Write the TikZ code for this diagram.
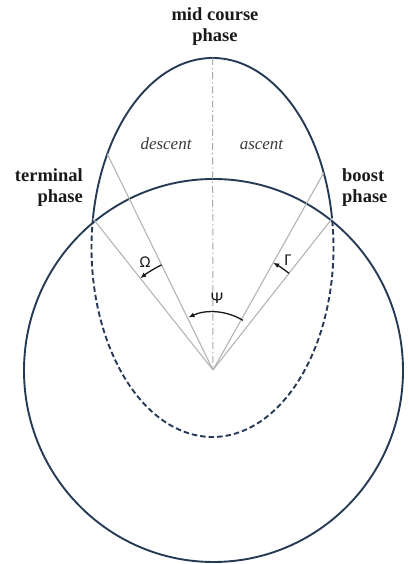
\documentclass[tikz,border=0pt]{standalone}
\usepackage{fontspec}
\setmainfont{Liberation Serif}
\newfontfamily\greekfont{Carlito}
\usetikzlibrary{calc,arrows.meta}
\definecolor{navy}{HTML}{263A55}
\definecolor{ray}{HTML}{B4B4B4}
\definecolor{axisgray}{HTML}{A8A8A8}
\definecolor{txt}{HTML}{1A1A1A}
\definecolor{ittxt}{HTML}{3A3A3A}
\tikzset{
  orbit/.style={draw=navy,line width=1.9pt},
  hidden/.style={draw=navy,line width=1.9pt,dash pattern=on 5.5pt off 3pt},
  rayline/.style={draw=ray,line width=1.1pt},
  axisline/.style={draw=axisgray,line width=1pt,dash pattern=on 7pt off 3pt on 1.2pt off 3pt},
  anglearrow/.style={draw=txt,line width=1.3pt,-{Latex[length=6pt,width=5pt]}},
  phaselabel/.style={font=\fontsize{18.5}{21}\selectfont\bfseries,text=txt,align=center,inner sep=0pt},
  itlabel/.style={font=\fontsize{17}{20}\selectfont\itshape,text=ittxt,inner sep=0pt},
  greeklabel/.style={font=\fontsize{16.5}{18}\selectfont\greekfont,text=txt,inner sep=0pt}
}
\begin{document}
\begin{tikzpicture}[x=1pt,y=1pt]
\useasboundingbox (0,0) rectangle (408,564);
\coordinate (C) at (213.5,193.5);
\coordinate (E) at (212.5,316.5);
\coordinate (O) at (213,194);
\coordinate (L) at ($(E)+(171.2:121 and 189.5)$);
\coordinate (R) at ($(E)+(8.8:121 and 189.5)$);
\coordinate (Li) at ($(E)+(150.4:121 and 189.5)$);
\coordinate (Ri) at ($(E)+(23.2:121 and 189.5)$);
\coordinate (T) at ($(E)+(0,189.5)$);
% earth
\draw[orbit] (C) ellipse[x radius=189.5, y radius=191.5];
% trajectory
\draw[orbit] (R) arc[start angle=8.8, end angle=171.2, x radius=121, y radius=189.5];
\draw[hidden] (L) arc[start angle=171.2, end angle=368.8, x radius=121, y radius=189.5];
% axis
\draw[axisline] (T) -- (O);
% rays
\draw[rayline] (O) -- (L);
\draw[rayline] (O) -- (Li);
\draw[rayline] (O) -- (Ri);
\draw[rayline] (O) -- (R);
% angle arrows
\draw[anglearrow] ($(O)+(116.05:117)$) arc[start angle=116.05, end angle=128.4, radius=117];
\draw[anglearrow] ($(O)+(51.8:123)$) arc[start angle=51.8, end angle=60.7, radius=123];
\draw[anglearrow] ($(O)+(59:58)$) arc[start angle=59, end angle=115, radius=58];
% labels
\node[greeklabel] (om) at (145,302) {Ω};
\node[greeklabel] (ga) at (288,304) {Γ};
\node[greeklabel] (ps) at (217,266) {Ψ};
\node[itlabel,anchor=base] (de) at (166,414) {descent};
\node[itlabel,anchor=base] (as) at (261.5,414) {ascent};
\node[phaselabel,anchor=base] (mc) at (215,522) {mid course\\phase};
\node[phaselabel,anchor=base east,align=right] (tp) at (83,361) {terminal\\phase};
\node[phaselabel,anchor=base west,align=left] (bp) at (342,361) {boost\\phase};
\end{tikzpicture}
\end{document}
